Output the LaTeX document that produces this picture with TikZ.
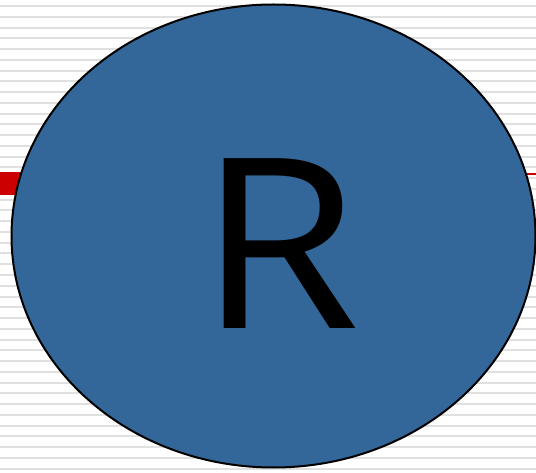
\documentclass[tikz,border=0pt]{standalone}
\usepackage{fontspec}
\setmainfont{Open Sans}
\usetikzlibrary{shapes.geometric}
\definecolor{ovalblue}{RGB}{52,103,153}
\definecolor{stripegray}{RGB}{224,224,224}
\definecolor{barred}{RGB}{204,0,0}
\tikzset{
  stripe/.style={draw=stripegray, line width=2pt},
  oval/.style={ellipse, draw=black, line width=2pt, fill=ovalblue, inner sep=0pt},
  bigletter/.style={font=\fontsize{238}{238}\selectfont, text=black, inner sep=0pt, xscale=1.1}
}
\begin{document}
\begin{tikzpicture}[x=1pt,y=-1pt]
\useasboundingbox (0,0) rectangle (536,473);
\fill[white] (0,0) rectangle (536,473);
\foreach \i in {0,...,43} {
  \draw[stripe] (0,{6+\i*10.76}) -- (536,{6+\i*10.76});
}
\fill[barred] (0,172) rectangle (80,195);
\draw[barred, line width=2pt] (0,174) -- (536,174);
\node[oval, minimum width=524pt, minimum height=463pt] (ring) at (273.5,236) {};
\node[bigletter, anchor=base] (letter) at (279,329) {R};
\end{tikzpicture}
\end{document}
